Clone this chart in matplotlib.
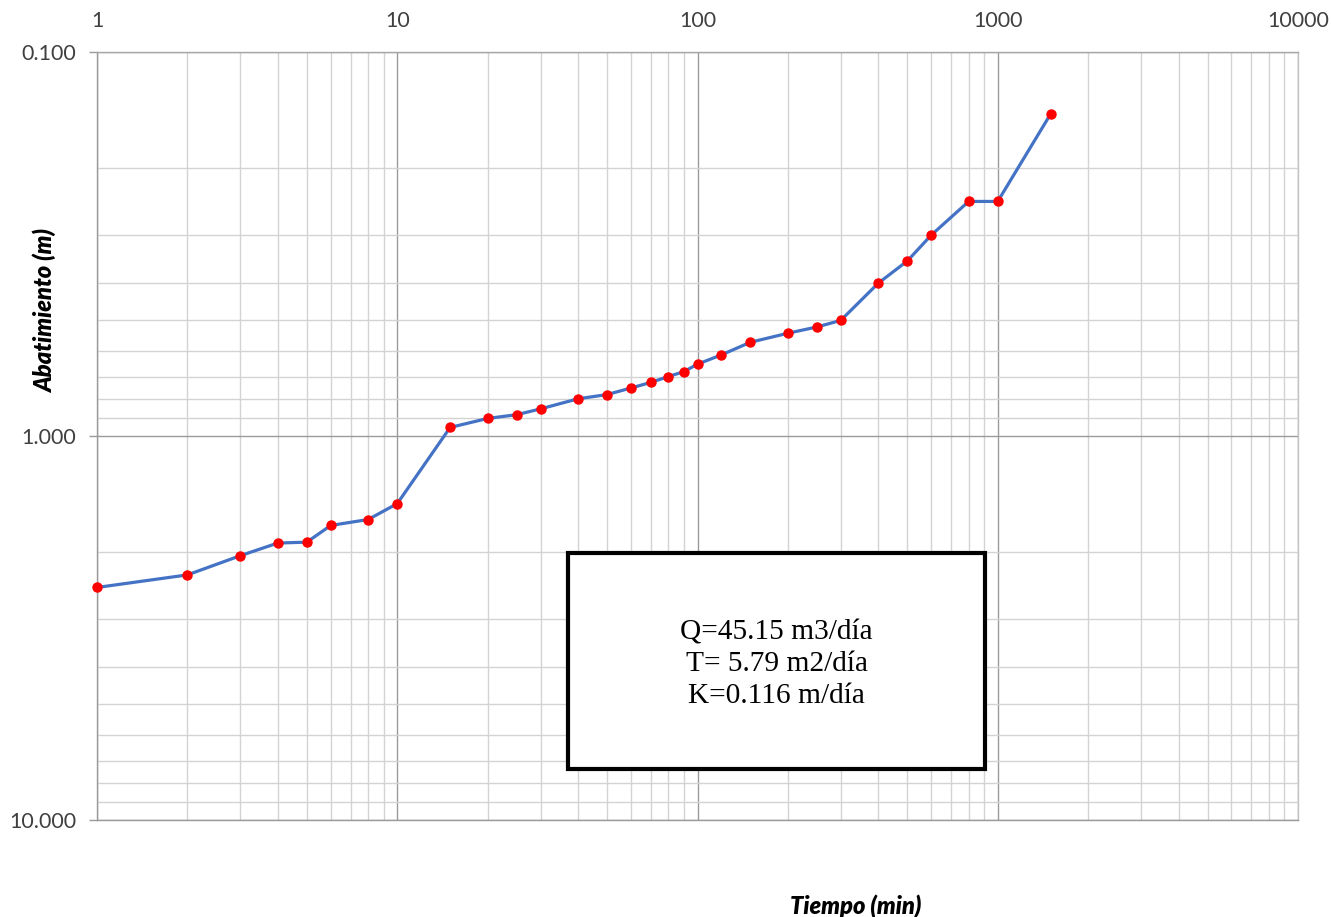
import matplotlib
matplotlib.use("Agg")
import matplotlib.pyplot as plt
from matplotlib.ticker import FixedLocator, FixedFormatter, LogLocator, NullFormatter
from matplotlib.patches import Rectangle

# Pumping test: drawdown vs elapsed time
tiempo_min = [1, 2, 3, 4, 5, 6, 8, 10, 15, 20, 25, 30, 40, 50, 60, 70, 80, 90,
              100, 120, 150, 200, 250, 300, 400, 500, 600, 800, 1000, 1500]
abatimiento_m = [2.48, 2.30, 2.05, 1.90, 1.89, 1.71, 1.65, 1.50, 0.95, 0.90,
                 0.88, 0.85, 0.80, 0.78, 0.75, 0.725, 0.70, 0.68, 0.65, 0.615,
                 0.57, 0.54, 0.52, 0.50, 0.40, 0.35, 0.30, 0.245, 0.245, 0.145]

x_ticks = [1, 10, 100, 1000, 10000]
x_labels = ["1", "10", "100", "1000", "10000"]
y_ticks = [0.1, 1, 10]
y_labels = ["0.100", "1.000", "10.000"]

box_lines = ["Q=45.15 m3/día", "T= 5.79 m2/día", "K=0.116 m/día"]

W, H = 1331, 917
fig = plt.figure(figsize=(W / 100, H / 100), dpi=100)
left, right, top, bottom = 97, 1298, 52, 820
ax = fig.add_axes([left / W, 1 - bottom / H, (right - left) / W, (bottom - top) / H])

ax.set_xscale("log")
ax.set_yscale("log")
ax.set_xlim(1, 10000)
ax.set_ylim(10, 0.1)

ax.xaxis.set_major_locator(FixedLocator(x_ticks))
ax.xaxis.set_major_formatter(FixedFormatter(x_labels))
ax.yaxis.set_major_locator(FixedLocator(y_ticks))
ax.yaxis.set_major_formatter(FixedFormatter(y_labels))
ax.xaxis.set_minor_locator(LogLocator(base=10, subs=range(2, 10), numticks=20))
ax.yaxis.set_minor_locator(LogLocator(base=10, subs=range(2, 10), numticks=20))
ax.xaxis.set_minor_formatter(NullFormatter())
ax.yaxis.set_minor_formatter(NullFormatter())

ax.grid(which="major", color="#9a9a9a", linewidth=1.0)
ax.grid(which="minor", color="#d3d3d3", linewidth=1.0)
ax.set_axisbelow(True)

ax.xaxis.tick_top()
ax.tick_params(axis="x", which="both", length=0, pad=15, labelsize=15.5,
               labelcolor="#404040")
ax.tick_params(axis="y", which="major", length=6, width=1, color="#9a9a9a",
               pad=9, labelsize=15.5, labelcolor="#404040")
ax.tick_params(axis="y", which="minor", length=0)
for lab in ax.get_xticklabels() + ax.get_yticklabels():
    lab.set_fontfamily("Lato")

for side, col in [("left", "#9a9a9a"), ("top", "#a8a8a8"),
                  ("bottom", "#9a9a9a"), ("right", "#c4c4c4")]:
    ax.spines[side].set_color(col)
    ax.spines[side].set_linewidth(1.0)

ax.plot(tiempo_min, abatimiento_m, color="#4472C4", linewidth=2.3,
        marker="o", markersize=6.5, markerfacecolor="#FF0000",
        markeredgecolor="#FF0000", zorder=3, clip_on=False)

# Axis titles
fig.text(45 / W, 1 - 311 / H, "Abatimiento (m)", rotation=90, ha="center",
         va="center", fontsize=17, fontweight="heavy", fontstyle="italic",
         family="Lato", color="#000000")
fig.text(856 / W, 1 - 906 / H, "Tiempo (min)", ha="center", va="center",
         fontsize=17, fontweight="heavy", fontstyle="italic",
         family="Lato", color="#000000")

# Result box
bx0, by0, bx1, by1 = 568, 553, 985, 769
rect = Rectangle((bx0 / W, 1 - by1 / H), (bx1 - bx0) / W, (by1 - by0) / H,
                 transform=fig.transFigure, facecolor="white",
                 edgecolor="black", linewidth=3.0, zorder=5)
fig.add_artist(rect)
fig.text((bx0 + bx1) / 2 / W, 1 - 664 / H, "\n".join(box_lines), ha="center",
         va="center", fontsize=21.2, family="Liberation Serif",
         linespacing=1.3, color="black", zorder=6)

fig.savefig("out.png", dpi=100, facecolor="white")
